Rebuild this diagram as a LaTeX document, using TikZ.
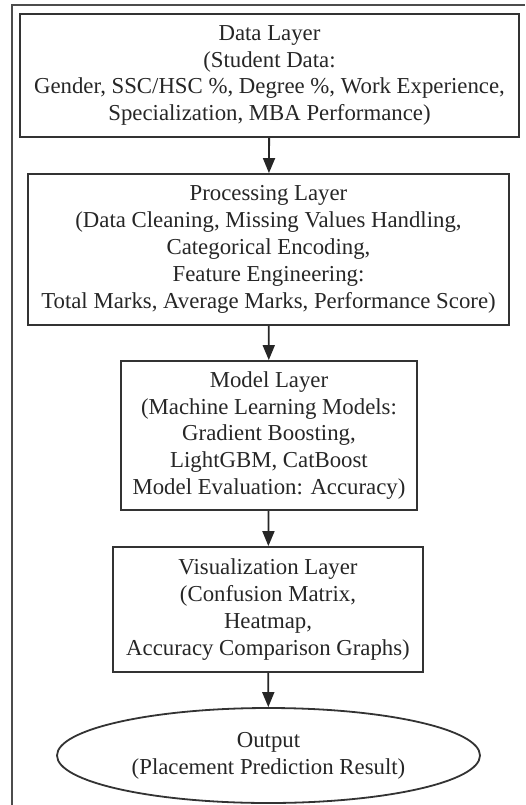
\documentclass[tikz,border=0pt]{standalone}
\usepackage{fontspec}
\setmainfont{Liberation Serif}
\usetikzlibrary{arrows.meta,shapes.geometric}

\begin{document}
\begin{tikzpicture}[x=1pt, y=-1pt,
    layer/.style={draw=black!80, line width=1.8pt, text=black!85, align=center,
      inner sep=0pt, font=\fontsize{22.8}{26.8}\selectfont},
    flow/.style={draw=black!85, line width=1.8pt, -{Triangle[length=15pt, width=12pt]}}]
  \useasboundingbox (0,0) rectangle (525,805);

  % frame of the screenshot
  \draw [black!70, line width=1.8pt] (12,805) -- (12,5) -- (525,5);

  \node [layer, rectangle, minimum width=499pt, minimum height=123pt] (data) at (269.5, 75.5)
    {Data Layer\\(Student Data:\\Gender, SSC/HSC \%, Degree \%, Work Experience,\\Specialization, MBA Performance)};
  \node [layer, rectangle, minimum width=481pt, minimum height=151pt] (proc) at (268.5, 249.5)
    {Processing Layer\\(Data Cleaning, Missing Values Handling,\\Categorical Encoding,\\Feature Engineering:\\Total Marks, Average Marks, Performance Score)};
  \node [layer, rectangle, minimum width=296pt, minimum height=149pt] (model) at (269, 435.5)
    {Model Layer\\(Machine Learning Models:\\Gradient Boosting,\\LightGBM, CatBoost\\Model Evaluation: Accuracy)};
  \node [layer, rectangle, minimum width=310pt, minimum height=125pt] (vis) at (268, 609.5)
    {Visualization Layer\\(Confusion Matrix,\\Heatmap,\\Accuracy Comparison Graphs)};
  \node [layer, ellipse, minimum width=423pt, minimum height=95pt] (out) at (268.5, 755.5)
    {Output\\(Placement Prediction Result)};

  \draw [flow] (data) -- (proc);
  \draw [flow] (proc) -- (model);
  \draw [flow] (model) -- (vis);
  \draw [flow] (vis) -- (out);
\end{tikzpicture}
\end{document}
